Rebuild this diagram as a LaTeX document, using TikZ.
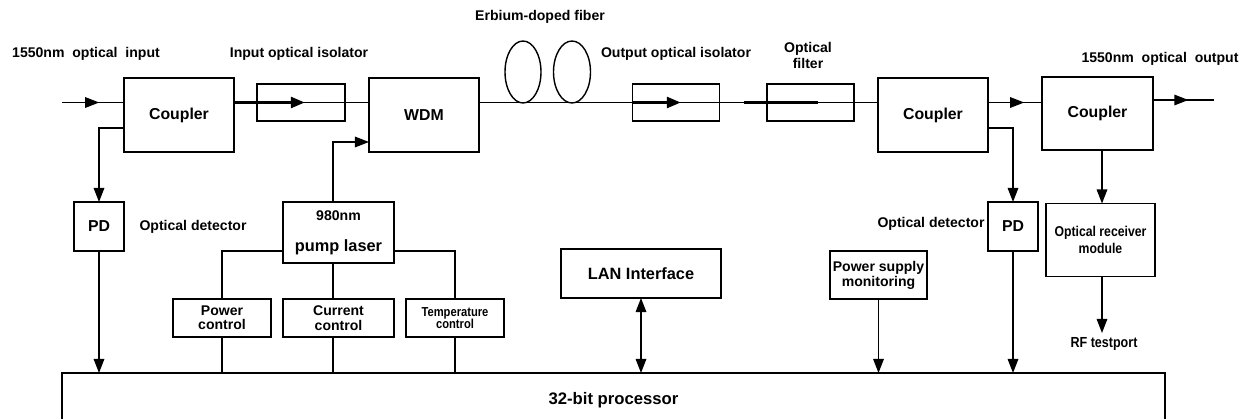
\documentclass[tikz,border=0pt]{standalone}
\usepackage{fontspec}
\setmainfont{Liberation Sans}
\newfontfamily\narrowfont[FakeStretch=0.86]{Liberation Sans}
\usetikzlibrary{arrows.meta,decorations.markings}
\begin{document}
\begin{tikzpicture}[x=0.02cm,y=-0.02cm,
  box/.style={draw, line width=0.8pt, inner sep=0pt, outer sep=0pt, align=center,
    font=\bfseries\fontsize{9}{10}\selectfont},
  lbl/.style={inner sep=0pt, align=center, font=\bfseries\fontsize{8}{9.5}\selectfont},
  wire/.style={line width=0.8pt},
  tip/.style={-{Triangle[length=8pt,width=6pt]}},
  arr/.style={wire, tip},
  thickl/.style={line width=1.9pt},
  midarrow/.style={postaction={decorate}, decoration={markings,
    mark=at position #1 with {\arrow{Triangle[length=8pt,width=6pt]}}}}
]
\useasboundingbox (0,0) rectangle (1252,419);

% top row
\node[box, minimum width=2.2cm, minimum height=1.48cm] (c1) at (179,115) {Coupler};
\node[box, minimum width=1.76cm, minimum height=0.74cm] (iso1) at (301,102.5) {};
\node[box, minimum width=2.2cm, minimum height=1.48cm] (wdm) at (424,115) {WDM};
\node[box, minimum width=1.74cm, minimum height=0.74cm] (oiso) at (676,102.5) {};
\node[box, minimum width=1.74cm, minimum height=0.74cm] (filt) at (810.5,102.5) {};
\node[box, minimum width=2.2cm, minimum height=1.48cm] (c2) at (933,115) {Coupler};
\node[box, minimum width=2.22cm, minimum height=1.46cm] (c3) at (1097.5,113.5) {Coupler};

% middle row
\node[box, minimum width=1.0cm, minimum height=0.98cm] (pd1) at (99,226.5) {PD};
\node[box, minimum width=2.22cm, minimum height=1.22cm] (pump) at (338.5,232.5) {};
\node[lbl] (p980) at (338.5,216) {980nm};
\node[lbl, font=\bfseries\fontsize{9.3}{10}\selectfont] (plaser) at (338.5,247) {pump laser};
\node[box, minimum width=1.96cm, minimum height=0.76cm, font=\bfseries\fontsize{8}{8.2}\selectfont] (pwr) at (222,318) {Power\\control};
\node[box, minimum width=2.22cm, minimum height=0.76cm, font=\bfseries\fontsize{8}{8.2}\selectfont] (cur) at (338.5,318) {Current\\control};
\node[box, minimum width=1.96cm, minimum height=0.76cm, font=\narrowfont\bfseries\fontsize{7.4}{7}\selectfont] (temp) at (455,318) {Temperature\\control};
\node[box, minimum width=3.2cm, minimum height=0.98cm, font=\bfseries\fontsize{9.3}{10}\selectfont] (lan) at (641,273.5) {LAN Interface};
\node[box, minimum width=1.94cm, minimum height=0.96cm, font=\bfseries\fontsize{8}{8.6}\selectfont] (psm) at (878.5,275) {Power supply\\monitoring};
\node[box, minimum width=1.0cm, minimum height=0.98cm] (pd2) at (1013,226.5) {PD};
\node[box, minimum width=2.18cm, minimum height=1.46cm, font=\narrowfont\bfseries\fontsize{8.1}{9.6}\selectfont] (orm) at (1100.5,240) {Optical receiver\\module};

% processor
\node[box, minimum width=22.06cm, minimum height=1.08cm, font=\bfseries\fontsize{9.5}{10}\selectfont] (proc) at (613.5,400) {32-bit processor};

% labels
\node[lbl] (lin) at (86,54) {1550nm\ \ optical\ \ input};
\node[lbl] (liso) at (299,54) {Input optical isolator};
\node[lbl] (lerb) at (540,17) {Erbium-doped fiber};
\node[lbl] (loiso) at (676,54) {Output optical isolator};
\node[lbl, font=\bfseries\fontsize{8}{8.6}\selectfont] (lfilt) at (808,55.5) {Optical\\filter};
\node[lbl] (lout) at (1160,59) {1550nm\ \ optical\ \ output};
\node[lbl] (lod1) at (193,227) {Optical detector};
\node[lbl] (lod2) at (931,224) {Optical detector};
\node[lbl, font=\narrowfont\bfseries\fontsize{8.3}{9}\selectfont] (lrf) at (1104,344) {RF testport};

% coordinates
\coordinate (in) at (62,102.5);
\coordinate (out) at (1214,100);
\coordinate (isotip) at (305,102.5);
\coordinate (oisotip) at (681,102.5);
\coordinate (fa) at (744,102.5);
\coordinate (fb) at (818,102.5);
\coordinate (rf) at (1102,333);
\coordinate (b1) at (99,128);
\coordinate (b2) at (1013,128);
\coordinate (pw) at (333,142);
\coordinate (pl) at (222,251);
\coordinate (pr) at (455,251);

% fiber coils
\draw[wire] (523,72) ellipse [x radius=0.36cm, y radius=0.62cm];
\draw[wire] (572,72) ellipse [x radius=0.37cm, y radius=0.62cm];

% optical path
\draw[wire, midarrow=0.6] (in) -- (c1.west |- in);
\draw[wire] (c1.east |- iso1) -- (wdm.west |- iso1);
\draw[thickl, tip] (c1.east |- iso1) -- (isotip);
\draw[wire] (wdm.east |- oiso) -- (c2.west |- oiso);
\draw[thickl, tip] (oiso.west) -- (oisotip);
\draw[thickl] (fa) -- (fb);
\draw[wire, midarrow=0.67] (c2.east |- oiso) -- (c3.west |- oiso);
\draw[wire, midarrow=0.58] (c3.east |- out) -- (out);

% branches
\draw[arr] (c1.west |- b1) -- (b1) -- (pd1.north);
\draw[arr] (pd1.south) -- (pd1.south |- proc.north);
\draw[arr] (pump.north -| pw) -- (pw) -- (wdm.west |- pw);
\draw[wire] (pump.west |- pl) -- (pl) -- (pwr.north);
\draw[wire] (pump.south -| pw) -- (cur.north -| pw);
\draw[wire] (pump.east |- pr) -- (pr) -- (temp.north);
\draw[wire] (pwr.south) -- (pwr.south |- proc.north);
\draw[wire] (cur.south -| pw) -- (pw |- proc.north);
\draw[wire] (temp.south) -- (temp.south |- proc.north);
\draw[wire, {Triangle[length=8pt,width=6pt]}-{Triangle[length=8pt,width=6pt]}] (lan.south) -- (lan.south |- proc.north);
\draw[arr] (psm.south) -- (psm.south |- proc.north);
\draw[arr] (c2.east |- b2) -- (b2) -- (pd2.north);
\draw[arr] (pd2.south) -- (pd2.south |- proc.north);
\draw[arr] (c3.south -| rf) -- (orm.north -| rf);
\draw[arr] (orm.south -| rf) -- (rf);
\end{tikzpicture}
\end{document}
